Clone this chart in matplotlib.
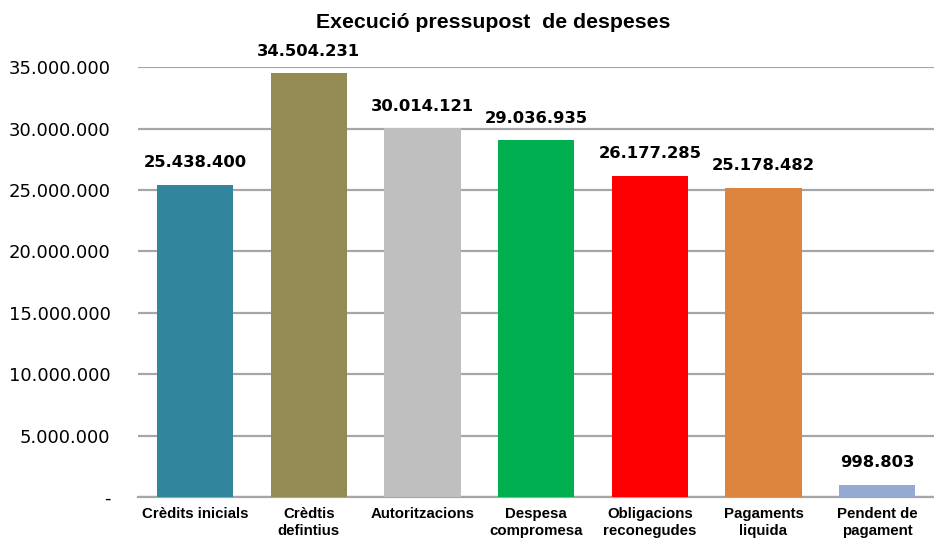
import matplotlib.pyplot as plt
from matplotlib.ticker import FuncFormatter

categories = ['Crèdits inicials', 'Crèdtis\ndefintius', 'Autoritzacions', 'Despesa\ncompromesa',
              'Obligacions\nreconegudes', 'Pagaments\nliquida', 'Pendent de\npagament']
values = [25438400, 34504231, 30014121, 29036935, 26177285, 25178482, 998803]
colors = ['#31859C', '#948A54', '#BFBFBF', '#00B050', '#FF0000', '#DC843E', '#95A9D3']


def fmt(v, pos=None):
    if v == 0:
        return '-'
    return f'{int(v):,}'.replace(',', '.')


fig = plt.figure(figsize=(9.34, 5.42), dpi=100)
ax = fig.add_axes([0.148, 0.083, 0.852, 0.793])

x = range(len(categories))
ax.bar(x, values, width=0.67, color=colors, zorder=3)
for i, v in enumerate(values):
    ax.annotate(fmt(v), (i, v), xytext=(0, 10.5), textcoords='offset points',
                ha='center', va='bottom', fontsize=11.8, fontweight='bold',
                fontfamily='DejaVu Sans', annotation_clip=False)

ax.set_xlim(-0.5, len(categories) - 0.5)
ax.set_ylim(0, 35000000)
ax.set_yticks(range(0, 35000001, 5000000))
ax.yaxis.set_major_formatter(FuncFormatter(fmt))
ax.yaxis.grid(True, color='#A6A6A6', linewidth=1.6, zorder=0)
ax.tick_params(axis='y', length=0, pad=20, labelsize=13)

ax.set_xticks(list(x))
ax.set_xticklabels(categories, fontfamily='Liberation Sans', fontweight='bold', fontsize=10.8,
                   linespacing=1.3)
ax.tick_params(axis='x', length=0, pad=7)

for s in ['top', 'right', 'left']:
    ax.spines[s].set_visible(False)
ax.spines['bottom'].set_color('#A6A6A6')
ax.spines['bottom'].set_linewidth(1.6)

fig.text(0.528, 0.958, 'Execució pressupost  de despeses', ha='center', va='center',
         fontsize=15.3, fontweight='bold', fontfamily='Liberation Sans')

fig.savefig('out.png', dpi=100)
